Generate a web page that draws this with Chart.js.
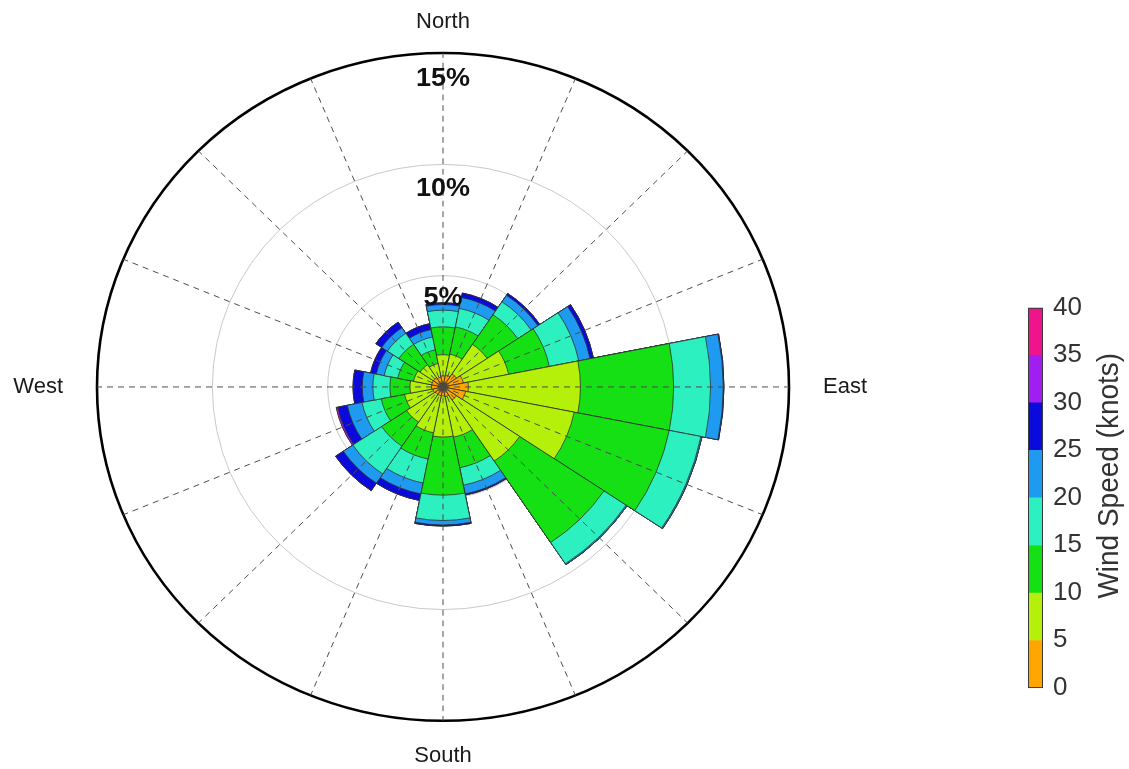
<!DOCTYPE html>
<html>
<head>
<meta charset="utf-8">
<script src="https://cdn.jsdelivr.net/npm/chart.js@4.4.1/dist/chart.umd.min.js"></script>
<style>
  html, body { margin: 0; padding: 0; background: #ffffff; }
  body { width: 1129px; height: 769px; overflow: hidden; position: relative; }
  #rose { position: absolute; left: 0; top: 0; }
  #speedBar { position: absolute; left: 1000px; top: 0; }
</style>
</head>
<body>
<canvas id="rose" width="1129" height="797"></canvas>
<canvas id="speedBar" width="129" height="797"></canvas>
<script>
// 16 compass sectors, clockwise from north
const directions = ['N', 'NNE', 'NE', 'ENE', 'E', 'ESE', 'SE', 'SSE',
                    'S', 'SSW', 'SW', 'WSW', 'W', 'WNW', 'NW', 'NNW'];
const compassNames = { N: 'North', E: 'East', S: 'South', W: 'West' };

// wind speed classes (knots)
const speedEdges = [0, 5, 10, 15, 20, 25, 30, 35, 40];
const speedBins = ['0-5', '5-10', '10-15', '15-20', '20-25', '25-30', '30-35', '35-40'];
const binColors = ['#FFA500', '#B4F00A', '#14E014', '#2CF0C0', '#1E9AF0', '#0A0ADC', '#A01EF0', '#F0148C'];

// frequency (% of observations) per direction, one array per speed class
const speed0to5   = [0.50, 0.55, 0.70, 0.90, 1.10, 1.00, 0.70, 0.45, 0.40, 0.40, 0.40, 0.45, 0.50, 0.50, 0.50, 0.45];
const speed5to10  = [0.95, 0.95, 1.60, 2.00, 4.86, 4.80, 3.30, 1.85, 1.85, 1.70, 1.50, 1.25, 0.93, 0.80, 0.70, 0.62];
const speed10to15 = [1.25, 1.25, 1.60, 1.80, 4.04, 4.20, 4.40, 1.40, 2.61, 1.20, 1.30, 1.03, 0.87, 0.70, 1.10, 0.63];
const speed15to20 = [0.75, 0.85, 0.70, 1.30, 1.60, 1.40, 1.15, 0.80, 1.14, 1.10, 1.50, 0.85, 0.74, 0.60, 0.60, 0.59];
const speed20to25 = [0.25, 0.50, 0.35, 0.50, 0.55, 0.05, 0.05, 0.40, 0.20, 0.50, 0.50, 0.65, 0.46, 0.35, 0.30, 0.34];
const speed25to30 = [0.08, 0.20, 0.10, 0.15, 0.03, 0.00, 0.00, 0.05, 0.05, 0.30, 0.40, 0.42, 0.40, 0.25, 0.30, 0.27];
const speed30to35 = [0.00, 0.00, 0.00, 0.00, 0.00, 0.00, 0.00, 0.00, 0.00, 0.00, 0.00, 0.07, 0.00, 0.00, 0.00, 0.00];
const speed35to40 = [0.00, 0.00, 0.00, 0.00, 0.00, 0.00, 0.00, 0.00, 0.00, 0.00, 0.00, 0.00, 0.00, 0.00, 0.00, 0.00];

// radial axis (percent)
const radialMax = 15;
const radialStep = 5;
const colorbarTitle = 'Wind Speed (knots)';

const speedSeries = [speed0to5, speed5to10, speed10to15, speed15to20,
                     speed20to25, speed25to30, speed30to35, speed35to40];

// stack the classes: each ring is drawn from the centre out to its running total
const cumulative = [];
let running = directions.map(() => 0);
speedSeries.forEach(series => {
  running = running.map((v, i) => v + series[i]);
  cumulative.push(running.slice());
});

const fontFamily = "'Liberation Sans', Arial, Helvetica, sans-serif";
const verticalScale = 0.965;

// the whole drawing is laid out on a 797px-tall canvas and pressed into 769px
const pressOpen = {
  id: 'pressOpen',
  beforeDraw(chart) {
    chart.ctx.save();
    chart.ctx.setTransform(1, 0, 0, verticalScale, 0, 0);
  }
};
const pressClose = {
  id: 'pressClose',
  afterDraw(chart) {
    chart.ctx.restore();
  }
};

// dashed spokes, percent labels and compass names
const roseDecor = {
  id: 'roseDecor',
  afterDatasetsDraw(chart) {
    const r = chart.scales.r;
    const ctx = chart.ctx;
    const R = r.drawingArea;
    const half = Math.PI / directions.length;
    ctx.save();
    ctx.strokeStyle = '#4a4a4a';
    ctx.lineWidth = 1;
    ctx.setLineDash([6, 5]);
    directions.forEach((d, i) => {
      const a = r.getIndexAngle(i) + half - Math.PI / 2;
      ctx.beginPath();
      ctx.moveTo(r.xCenter, r.yCenter);
      ctx.lineTo(r.xCenter + R * Math.cos(a), r.yCenter + R * Math.sin(a));
      ctx.stroke();
    });
    ctx.restore();
  },
  afterDraw(chart) {
    const r = chart.scales.r;
    const ctx = chart.ctx;
    const R = r.drawingArea;
    const half = Math.PI / directions.length;
    ctx.save();
    // percent labels along the north spoke, just inside each ring
    ctx.fillStyle = '#111111';
    ctx.font = 'bold 27px ' + fontFamily;
    ctx.textAlign = 'center';
    ctx.textBaseline = 'middle';
    for (let v = radialStep; v <= radialMax; v += radialStep) {
      const d = r.getDistanceFromCenterForValue(v);
      ctx.fillText(v + '%', r.xCenter, r.yCenter - d + 21 + 0.4 * v);
    }
    // compass names outside the frame
    ctx.font = '22px ' + fontFamily;
    ctx.fillStyle = '#1a1a1a';
    directions.forEach((d, i) => {
      const name = compassNames[d];
      if (!name) return;
      const a = r.getIndexAngle(i) + half - Math.PI / 2;
      const c = Math.cos(a), s = Math.sin(a);
      ctx.textAlign = c > 0.5 ? 'left' : (c < -0.5 ? 'right' : 'center');
      const dist = s < -0.5 ? R + 32 : (s > 0.5 ? R + 37 : R + 34);
      ctx.fillText(name, r.xCenter + dist * c, r.yCenter + dist * s);
    });
    ctx.restore();
  }
};

new Chart(document.getElementById('rose'), {
  type: 'polarArea',
  data: {
    labels: directions,
    datasets: speedBins.map((bin, b) => ({
      label: bin + ' knots',
      data: cumulative[b],
      backgroundColor: binColors[b],
      borderColor: '#2e2e2e',
      borderWidth: 0.8
    }))
  },
  options: {
    responsive: false,
    devicePixelRatio: 1,
    animation: false,
    layout: { padding: { left: 97, right: 339, top: 55, bottom: 50 } },
    plugins: { legend: { display: false }, tooltip: { enabled: false } },
    scales: {
      r: {
        min: 0,
        max: radialMax,
        startAngle: -180 / directions.length,
        z: 1,
        ticks: { display: false, stepSize: radialStep },
        grid: {
          circular: true,
          color: c => (c.tick && c.tick.value === radialMax) ? '#000000' : '#c8c8c8',
          lineWidth: c => (c.tick && c.tick.value === radialMax) ? 2.6 : 1
        },
        angleLines: { display: false },
        pointLabels: { display: false }
      }
    }
  },
  plugins: [pressOpen, roseDecor, pressClose]
});

// colour scale for the speed classes
const barFrame = {
  id: 'barFrame',
  afterDatasetsDraw(chart) {
    const a = chart.chartArea;
    const ctx = chart.ctx;
    ctx.save();
    ctx.strokeStyle = '#3a3a3a';
    ctx.lineWidth = 1;
    ctx.strokeRect(a.left + 0.5, a.top + 0.5, a.right - a.left - 1, a.bottom - a.top - 1);
    ctx.restore();
  },
  afterDraw(chart) {
    const a = chart.chartArea;
    const ctx = chart.ctx;
    ctx.save();
    ctx.translate(a.right + 67, (a.top + a.bottom) / 2 - 23);
    ctx.rotate(-Math.PI / 2);
    ctx.font = '29px ' + fontFamily;
    ctx.fillStyle = '#333333';
    ctx.textAlign = 'center';
    ctx.textBaseline = 'middle';
    ctx.fillText(colorbarTitle, 0, 0);
    ctx.restore();
  }
};

new Chart(document.getElementById('speedBar'), {
  type: 'bar',
  data: {
    labels: ['speed'],
    datasets: speedBins.map((bin, b) => ({
      label: bin,
      data: [speedEdges[b + 1] - speedEdges[b]],
      backgroundColor: binColors[b],
      borderWidth: 0,
      barPercentage: 1,
      categoryPercentage: 1
    }))
  },
  options: {
    responsive: false,
    devicePixelRatio: 1,
    animation: false,
    layout: { padding: { left: 28, right: 0, top: 319, bottom: 84 } },
    plugins: { legend: { display: false }, tooltip: { enabled: false } },
    scales: {
      x: { display: false, stacked: true },
      y: {
        stacked: true,
        position: 'right',
        min: speedEdges[0],
        max: speedEdges[speedEdges.length - 1],
        afterFit: s => { s.width = 86; },
        ticks: { stepSize: 5, padding: 10, color: '#333333', font: { size: 26, family: fontFamily } },
        grid: { display: false, drawTicks: false },
        border: { display: false }
      }
    }
  },
  plugins: [pressOpen, barFrame, pressClose]
});
</script>
</body>
</html>
